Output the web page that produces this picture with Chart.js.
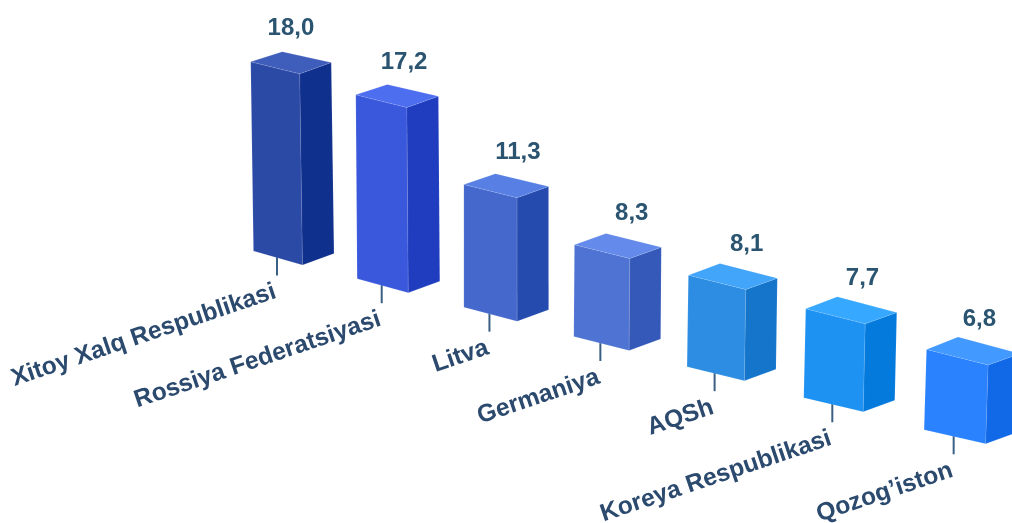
<!DOCTYPE html>
<html>
<head>
<meta charset="utf-8">
<style>html,body{margin:0;padding:0;background:#fff}canvas{display:block}</style>
<script src="https://cdn.jsdelivr.net/npm/chart.js@4"></script>
</head>
<body>
<canvas id="c" width="1012" height="523"></canvas>
<script>
const categories = ["Xitoy Xalq Respublikasi","Rossiya Federatsiyasi","Litva","Germaniya","AQSh","Koreya Respublikasi","Qozog\u2019iston"];
const values = [18.0,17.2,11.3,8.3,8.1,7.7,6.8];
const frontColors = ["#2B4AA6","#3A58DC","#4468CC","#4E73D2","#2D8DE2","#1E92F2","#2A82FF"];
const sideColors  = ["#10308E","#1F3DBE","#254BAF","#3459B9","#1475CB","#057ADD","#1269E8"];
const topColors   = ["#3F5DBB","#4E6EF0","#5880E4","#648BEB","#42A5FA","#36A8FF","#4299FF"];

// Camera that turns the flat chart into the receding row of blocks
const cam = {
  originX:302.5, originY:265, stepX:104.3, stepY:27.3, persp:0.014,
  leftDX:49, leftGrow:2.1, leftDY:14, rightDX:31.5, rightDY:11.5,
  topLeftDY:12, topLeftGrow:0.6, topRightDY:11.3, topBackDY:22, topBackGrow:1,
  leanCentre:520, leanDiv:15000
};
const yMax = 523/10.62;

const blocks3d = {
  id:'blocks3d',
  beforeDatasetDraw(chart,args){
    const ctx = chart.ctx, els = args.meta.data;
    const spacing = (els[els.length-1].x-els[0].x)/(els.length-1);
    els.forEach((el,i)=>{
      const t = (el.x-els[0].x)/spacing;
      const w = 1-cam.persp*t;
      const cx = cam.originX+cam.stepX*t/w;
      const cy = cam.originY+cam.stepY*t/w;
      const h = (el.base-el.y)/w;
      const lx = cam.leftDX+cam.leftGrow*t, rx = cam.rightDX;
      const lean = (cx-cam.leanCentre)*h/cam.leanDiv;
      const tc = [cx+lean,cy-h];
      const B = {c:[cx,cy], l:[cx-lx,cy-cam.leftDY], r:[cx+rx,cy-cam.rightDY]};
      const T = {c:tc,
        l:[tc[0]-lx,tc[1]-cam.topLeftDY-cam.topLeftGrow*t],
        r:[tc[0]+rx,tc[1]-cam.topRightDY],
        b:[tc[0]-lx+rx,tc[1]-cam.topBackDY-cam.topBackGrow*t]};
      const face = (pts,col)=>{
        ctx.beginPath();
        pts.forEach((p,k)=>k?ctx.lineTo(p[0],p[1]):ctx.moveTo(p[0],p[1]));
        ctx.closePath();
        ctx.fillStyle = col; ctx.fill();
        ctx.strokeStyle = 'rgba(255,255,255,0.12)'; ctx.lineWidth = 0.8; ctx.stroke();
      };
      // stem and category label
      const sx = cx-lx*0.52, sy = cy+10.5;
      ctx.beginPath(); ctx.moveTo(sx,cy-cam.leftDY*0.6); ctx.lineTo(sx,sy);
      ctx.strokeStyle = '#3A5F85'; ctx.lineWidth = 2; ctx.stroke();
      face([B.l,B.c,T.c,T.l],frontColors[i]);
      face([B.c,B.r,T.r,T.c],sideColors[i]);
      face([T.l,T.c,T.r,T.b],topColors[i]);
      ctx.save();
      ctx.translate(sx+0.5,sy+22);
      ctx.rotate(-18.6*Math.PI/180);
      ctx.font = 'bold 24.6px "Liberation Sans"';
      ctx.fillStyle = '#2B4A6E'; ctx.textAlign = 'right'; ctx.textBaseline = 'alphabetic';
      ctx.fillText(categories[i],0,0);
      ctx.restore();
      // value label
      ctx.font = 'bold 24px "Liberation Sans"';
      ctx.fillStyle = '#2A5470'; ctx.textAlign = 'center'; ctx.textBaseline = 'alphabetic';
      const off = 2-1.2*(t-3)*(t-3);
      ctx.fillText(values[i].toFixed(1).replace('.',','),T.c[0]+off,T.c[1]-38.5);
    });
    return false;
  }
};

new Chart(document.getElementById('c'),{
  type:'bar',
  data:{labels:categories,datasets:[{data:values,backgroundColor:frontColors,borderWidth:0}]},
  options:{
    responsive:false,animation:false,
    layout:{padding:0},
    plugins:{legend:{display:false},tooltip:{enabled:false}},
    scales:{x:{display:false},y:{display:false,min:0,max:yMax}}
  },
  plugins:[blocks3d]
});
</script>
</body>
</html>
